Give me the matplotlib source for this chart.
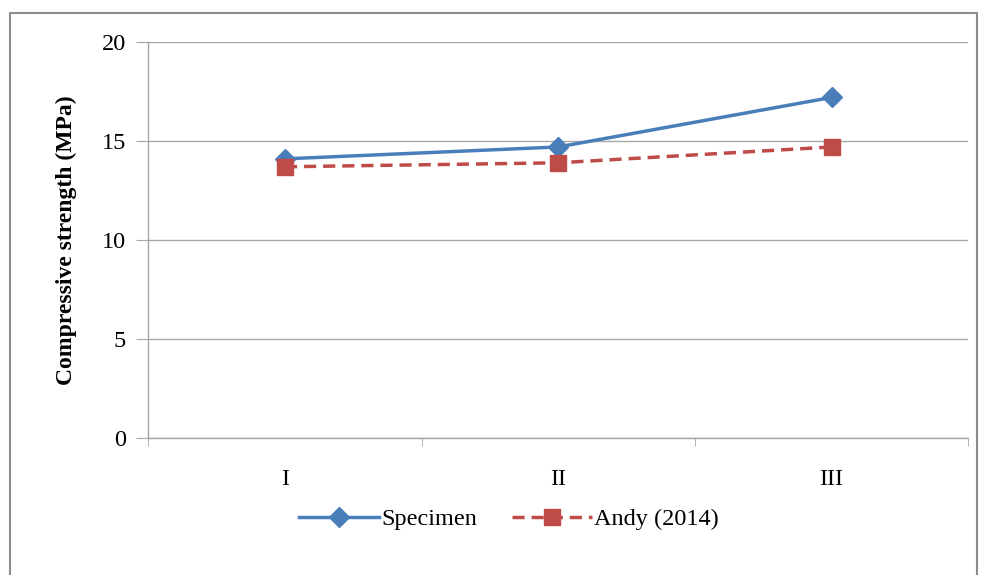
import matplotlib.pyplot as plt
from matplotlib.patches import Rectangle

categories = ["I", "II", "III"]
specimen = [14.1, 14.7, 17.2]
andy_2014 = [13.7, 13.9, 14.7]

BLUE, RED, GRID = "#4a7ebb", "#be4b48", "#a6a6a6"

plt.rcParams["font.family"] = ["Liberation Serif", "DejaVu Serif"]

fig = plt.figure(figsize=(9.82, 5.75), dpi=100)
ax = fig.add_axes([0.151, 0.238, 0.835, 0.689])

# outer chart frame
fig.patches.append(Rectangle((10 / 982, -0.01), 967 / 982, 1 - 13 / 575 + 0.01,
                             transform=fig.transFigure, fill=False,
                             edgecolor="#8c8c8c", linewidth=1.5))

x = range(len(categories))
ax.plot(x, specimen, color=BLUE, linewidth=2.5, marker="D", markersize=10,
        label="Specimen")
ax.plot(x, andy_2014, color=RED, linewidth=2.5, linestyle=(0, (3.5, 2)),
        marker="s", markersize=12, label="Andy (2014)")

ax.set_xlim(-0.5, len(categories) - 0.5)
ax.set_ylim(0, 20)
ax.set_yticks([0, 5, 10, 15, 20])
ax.set_xticks(list(x))
ax.set_xticklabels(categories)
ax.set_xticks([-0.5, 0.5, 1.5, 2.5], minor=True)
ax.tick_params(axis="x", which="major", length=0, pad=22, labelsize=17.5)
ax.tick_params(axis="x", which="minor", length=6, color=GRID, direction="out")
ax.tick_params(axis="y", length=9, color=GRID, pad=7, labelsize=17.5)

ax.grid(axis="y", color=GRID, linewidth=1)
ax.set_axisbelow(True)
for side in ("top", "right"):
    ax.spines[side].set_visible(False)
for side in ("left", "bottom"):
    ax.spines[side].set_color(GRID)
    ax.spines[side].set_linewidth(1)

ax.set_ylabel("Compressive strength (MPa)", fontsize=17, fontweight="bold",
              labelpad=18)

ax.legend(loc="center", bbox_to_anchor=(0.44, -0.205), ncol=2,
          frameon=False, fontsize=17.5, handlelength=3.3, columnspacing=1.4,
          handletextpad=0.1)

fig.savefig("out.png", dpi=100)
